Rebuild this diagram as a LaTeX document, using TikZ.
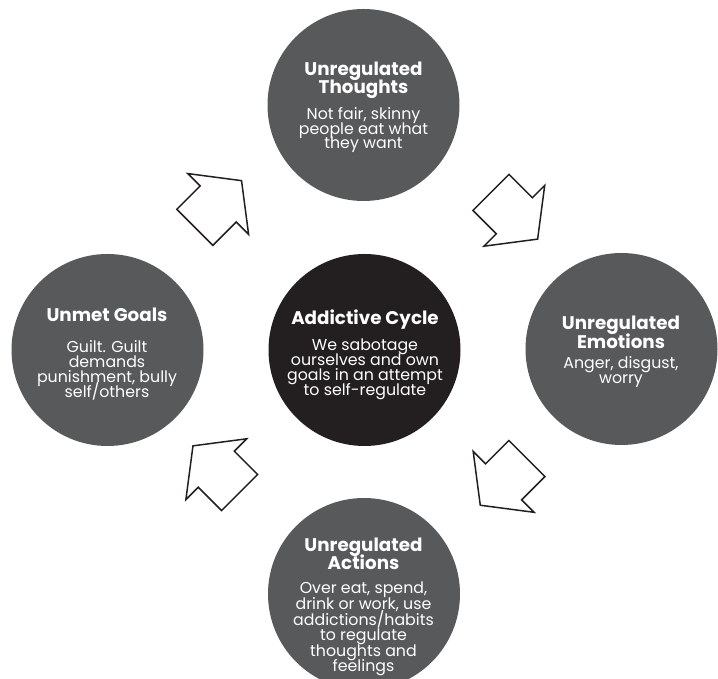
\documentclass[tikz,border=0pt]{standalone}
\usepackage{fontspec}
\setmainfont{Poppins}
\usetikzlibrary{calc}

\definecolor{discgray}{HTML}{58595B}
\definecolor{discdark}{HTML}{231F20}
\definecolor{inkline}{HTML}{231F20}

% Title (bold) followed by an explanatory paragraph.
% #1 leading of the paragraph, #3 extra space between title and paragraph.
% Fixed leading: lines never get pushed apart by tall glyphs.
\newcommand\cycletext[4][15]{%
  \vtop{\hsize=200pt\parskip=0pt\parindent=0pt\centering
    \lineskiplimit=-100pt\lineskip=0pt
    \fontsize{18.3}{18.5}\selectfont\bfseries #2\par
    \vskip #3\relax
    \fontsize{15.8}{#1}\selectfont\mdseries #4\par}}

\tikzset{
  disc/.style={circle, fill=discgray, draw=none, minimum size=192pt, inner sep=0pt},
  hub/.style={disc, fill=discdark},
  disclabel/.style={anchor=base, inner sep=0pt, text=white},
  arrowline/.style={draw=inkline, fill=white, line width=1.5pt, line join=miter},
  cyclearrow/.pic={
    \draw[arrowline] (-33,-25.5) -- (0,-25.5) -- (0,-43) -- (33,0)
      -- (0,43) -- (0,25.5) -- (-33,25.5) -- cycle;
  }
}

\begin{document}
\begin{tikzpicture}[x=1pt, y=1pt]
  \useasboundingbox (0,0) rectangle (718,679);
  \clip (0,0) rectangle (718,679);

  % circles
  \node[disc] (thoughts) at (363.5,574) {};
  \node[disc] (goals)    at (107.5,329) {};
  \node[hub]  (cycle)    at (364.5,329) {};
  \node[disc] (emotions) at (621.5,330) {};
  \node[disc] (actions)  at (364,85)   {};

  % texts
  \node[disclabel] (thoughtsT) at ($(thoughts)+(0,29.5)$)
    {\cycletext[14.4]{Unregulated\\Thoughts}{11.6pt}{Not fair, skinny\\people eat what\\they want}};
  \node[disclabel] (cycleT) at ($(cycle)+(0.5,25)$)
    {\cycletext[15]{Addictive Cycle}{11pt}{We sabotage\\ourselves and own\\goals in an attempt\\to self-regulate}};
  \node[disclabel] (goalsT) at ($(goals)+(-0.5,28.3)$)
    {\cycletext[14.8]{Unmet Goals}{16.2pt}{Guilt. Guilt\\demands\\punishment, bully\\self/others}};
  \node[disclabel] (emotionsT) at ($(emotions)+(-0.5,19)$)
    {\cycletext[15]{Unregulated\\Emotions}{5pt}{Anger, disgust,\\worry}};
  \node[disclabel] (actionsT) at ($(actions)+(-0.5,42.5)$)
    {\cycletext[15.6]{Unregulated\\Actions}{8.4pt}{Over eat, spend,\\drink or work, use\\addictions/habits\\to regulate\\thoughts and\\feelings}};

  % block arrows between the circles
  \pic[rotate=45]   at (218.2,475)   {cyclearrow};
  \pic[rotate=-45]  at (514.3,463.2) {cyclearrow};
  \pic[rotate=-135] at (503.6,197.1) {cyclearrow};
  \pic[rotate=135]  at (216.3,209.8) {cyclearrow};
\end{tikzpicture}
\end{document}
